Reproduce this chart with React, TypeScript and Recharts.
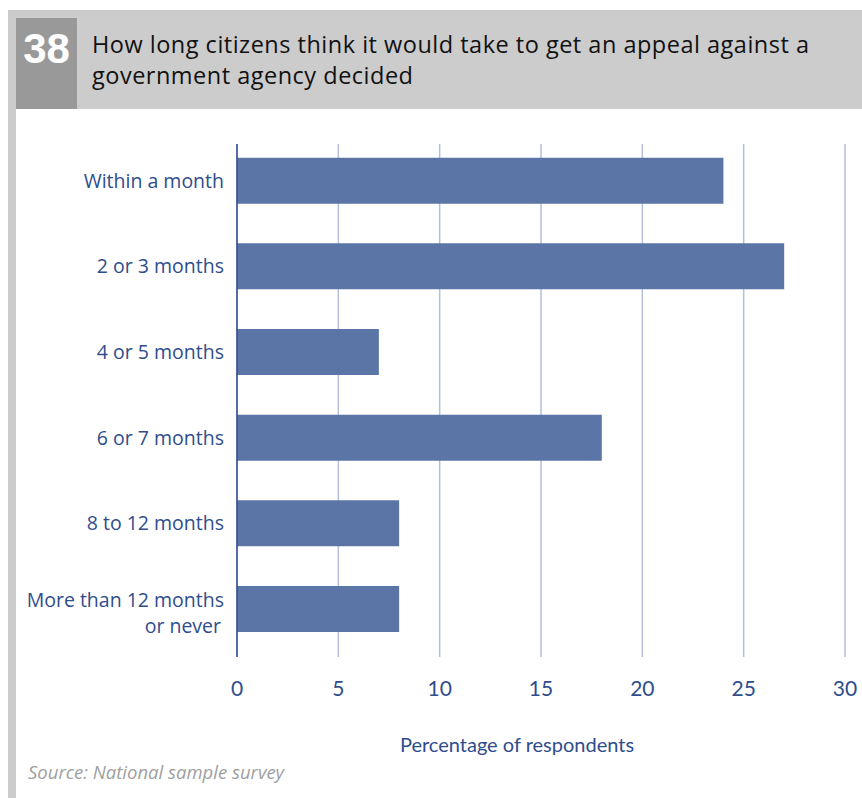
import React from "react";
import { BarChart, Bar, XAxis, YAxis, CartesianGrid } from "recharts";

const categories = [
  "Within a month",
  "2 or 3 months",
  "4 or 5 months",
  "6 or 7 months",
  "8 to 12 months",
  "More than 12 months|or never",
];
const percentages = [24, 27, 7, 18, 8, 8];
const xTicks = [0, 5, 10, 15, 20, 25, 30];
const titleLines = [
  "How long citizens think it would take to get an appeal against a",
  "government agency decided",
];

const data = categories.map((name, i) => ({ name, value: percentages[i] }));

const BLUE_TEXT = "#2f4d8c";
const BAR = "#5b76a6";
const GRID = "#b3c0db";
const FONT = "Lato, 'Open Sans', sans-serif";
const WIDE = "'Open Sans', Lato, sans-serif";

const CategoryTick = ({ x, y, payload }: any) => {
  const lines = String(payload.value).split("|");
  const lineH = 26;
  const start = lines.length > 1 ? -9 : 0;
  return (
    <text x={x} y={y} textAnchor="end" fill={BLUE_TEXT} fontSize={19.5} fontFamily={WIDE}>
      {lines.map((l, i) => (
        <tspan key={i} x={i > 0 ? x - 3 : x} y={y + start + i * lineH} dy="0.35em">
          {l}
        </tspan>
      ))}
    </text>
  );
};

export default function App() {
  return (
    <div style={{ position: "absolute", left: 0, top: 0, width: 862, height: 798, background: "#fff", overflow: "hidden" }}>
      {/* header band */}
      <div style={{ position: "absolute", left: 8, top: 10, width: 854, height: 99, background: "#cccccc" }} />
      <div style={{ position: "absolute", left: 8, top: 10, width: 8, height: 788, background: "#cccccc" }} />
      <div
        style={{
          position: "absolute",
          left: 16,
          top: 18,
          width: 61,
          height: 91,
          background: "#999999",
          color: "#fff",
          fontFamily: "'Liberation Sans', Arial, sans-serif",
          fontWeight: 700,
          fontSize: 42,
          lineHeight: "62px",
          textAlign: "center",
        }}
      >
        38
      </div>
      {titleLines.map((t, i) => (
        <div
          key={i}
          style={{
            position: "absolute",
            left: 92,
            top: 29 + i * 31,
            height: 31,
            fontFamily: WIDE,
            fontSize: 23.5,
            letterSpacing: 0.5,
            lineHeight: "31px",
            color: "#111",
            whiteSpace: "nowrap",
          }}
        >
          {t}
        </div>
      ))}

      <div style={{ position: "absolute", left: 0, top: 0 }}>
        <BarChart
          width={862}
          height={798}
          data={data}
          layout="vertical"
          margin={{ top: 144, right: 17, bottom: 0, left: 0 }}
          barCategoryGap="23%"
        >
          <CartesianGrid horizontal={false} stroke={GRID} strokeWidth={1.5} />
          <XAxis
            type="number"
            domain={[0, 30]}
            ticks={xTicks}
            axisLine={false}
            tickLine={false}
            tickSize={0}
            tickMargin={24}
            height={141}
            tick={{ fill: BLUE_TEXT, fontSize: 21, fontFamily: FONT }}
            label={{
              value: "Percentage of respondents",
              position: "insideBottom",
              offset: 46,
              dx: -24,
              fill: BLUE_TEXT,
              fontSize: 20,
              fontFamily: FONT,
            }}
          />
          <YAxis
            type="category"
            dataKey="name"
            width={237}
            axisLine={{ stroke: BLUE_TEXT, strokeWidth: 1.5 }}
            tickLine={false}
            tickSize={0}
            tickMargin={13}
            padding={{ top: -6, bottom: 5 }}
            tick={<CategoryTick />}
            interval={0}
          />
          <Bar dataKey="value" fill={BAR} isAnimationActive={false} />
        </BarChart>
      </div>

      <div
        style={{
          position: "absolute",
          left: 28,
          top: 759,
          fontFamily: WIDE,
          fontStyle: "italic",
          fontSize: 18.5,
          color: "#a0a0a0",
        }}
      >
        Source: National sample survey
      </div>
    </div>
  );
}
